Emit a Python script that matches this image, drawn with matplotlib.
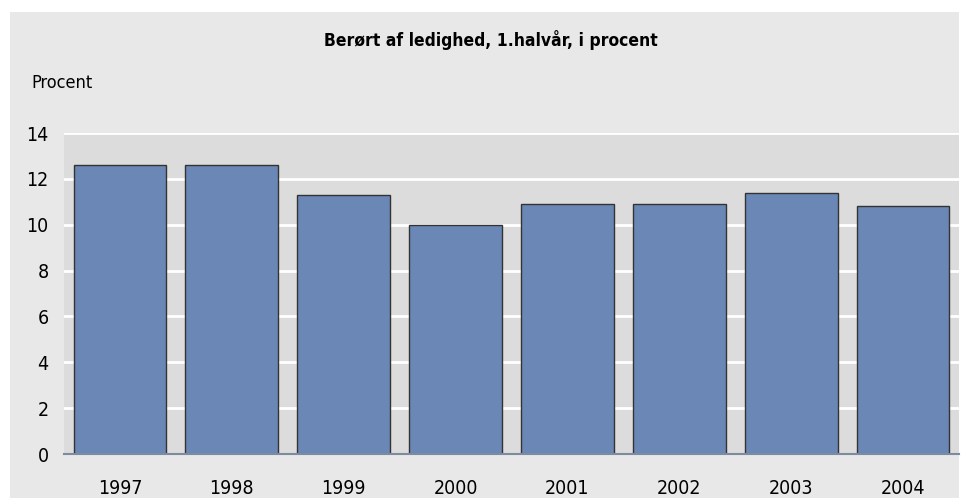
import matplotlib
matplotlib.use("Agg")
import matplotlib.pyplot as plt
from matplotlib.patches import Rectangle

years = ["1997", "1998", "1999", "2000", "2001", "2002", "2003", "2004"]
values = [12.6, 12.6, 11.3, 10.0, 10.9, 10.9, 11.4, 10.8]
yticks = [0, 2, 4, 6, 8, 10, 12, 14]

plt.rcParams['font.family'] = ['DejaVu Sans']
plt.rcParams['font.stretch'] = 'condensed'

W, H = 961, 498
fig = plt.figure(figsize=(W / 100, H / 100), dpi=100)
fig.patch.set_facecolor("white")

# light grey panel behind everything
fig.patches.append(Rectangle((10 / W, 0), 949 / W, 486 / H, transform=fig.transFigure,
                             facecolor="#e8e8e8", edgecolor="none", zorder=-10))

ax = fig.add_axes([64 / W, 44 / H, 895 / W, 321 / H])
ax.set_facecolor("#dcdcdc")

x = range(len(years))
ax.bar(x, values, width=0.83, color="#6b87b6", edgecolor="#333333", linewidth=1.0, zorder=3)

ax.set_xlim(-0.5, len(years) - 0.5)
ax.set_ylim(0, 14)
ax.set_yticks(yticks)
ax.set_xticks(list(x))
ax.set_xticklabels(years)
ax.yaxis.grid(True, color="white", linewidth=2, zorder=1)
ax.set_axisbelow(True)

for s in ["top", "right", "left"]:
    ax.spines[s].set_visible(False)
ax.spines["bottom"].set_color("#7d8ba0")
ax.spines["bottom"].set_linewidth(1.5)
ax.spines["bottom"].set_zorder(4)

ax.tick_params(axis="both", length=0, labelsize=14, colors="black")
ax.tick_params(axis="y", pad=11)
ax.tick_params(axis="x", pad=18)

fig.text(491 / W, 1 - 40 / H, "Berørt af ledighed, 1.halvår, i procent",
         ha="center", va="center", fontsize=12.5, fontweight="bold")
fig.text(31 / W, 1 - 83 / H, "Procent", ha="left", va="center", fontsize=13)

fig.savefig("out.png", dpi=100, facecolor=fig.get_facecolor())
